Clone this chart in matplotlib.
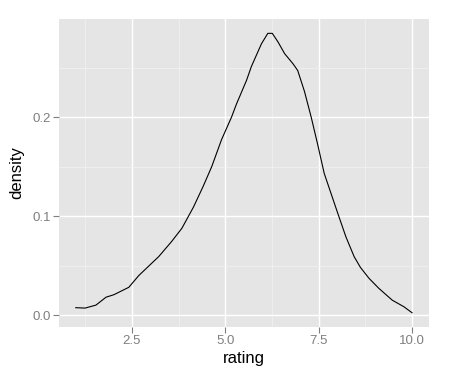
import matplotlib
matplotlib.use('Agg')
import matplotlib.pyplot as plt
from matplotlib.ticker import MultipleLocator

# density curve
rating = [1.0, 1.25, 1.54, 1.81, 2.02, 2.42, 2.69, 3.22, 3.56, 3.84, 4.15, 4.41,
          4.64, 4.90, 5.17, 5.30, 5.57, 5.70, 5.97, 6.14, 6.26, 6.41, 6.59, 6.81,
          6.94, 7.12, 7.30, 7.47, 7.65, 7.83, 8.01, 8.23, 8.45, 8.62, 8.85, 9.11,
          9.47, 9.78, 10.0]
density = [0.0074, 0.0070, 0.010, 0.018, 0.0205, 0.028, 0.040, 0.059, 0.074, 0.0876,
           0.109, 0.130, 0.150, 0.177, 0.200, 0.213, 0.237, 0.251, 0.274, 0.2845,
           0.2845, 0.276, 0.264, 0.254, 0.247, 0.226, 0.200, 0.173, 0.143, 0.123,
           0.103, 0.079, 0.059, 0.048, 0.037, 0.027, 0.015, 0.0084, 0.0023]

x_ticks = [2.5, 5.0, 7.5, 10.0]
y_ticks = [0.0, 0.1, 0.2]

plt.rcParams['font.family'] = ['Liberation Sans', 'DejaVu Sans']

fig = plt.figure(figsize=(4.5, 3.8), dpi=100)
ax = fig.add_axes([0.131, 0.1395, 0.822, 0.8105])

ax.set_facecolor('#E5E5E5')
ax.plot(rating, density, color='black', linewidth=0.8)

ax.set_xlim(0.55, 10.45)
ax.set_ylim(-0.0121, 0.299)
ax.set_xticks(x_ticks)
ax.set_xticklabels(['2.5', '5.0', '7.5', '10.0'])
ax.set_yticks(y_ticks)
ax.set_yticklabels(['0.0', '0.1', '0.2'])
ax.xaxis.set_minor_locator(MultipleLocator(1.25))
ax.yaxis.set_minor_locator(MultipleLocator(0.05))

ax.grid(which='major', color='white', linewidth=1.0)
ax.grid(which='minor', color='#F2F2F2', linewidth=0.5)
ax.set_axisbelow(True)
for s in ax.spines.values():
    s.set_visible(False)

ax.tick_params(which='major', length=4, width=0.8, color='#7F7F7F',
               labelcolor='#7F7F7F', labelsize=9.5, pad=2)
ax.tick_params(which='minor', length=0)

ax.set_xlabel('rating', fontsize=12, labelpad=3)
ax.set_ylabel('density', fontsize=12, labelpad=6)

fig.savefig('out.png', dpi=100)
